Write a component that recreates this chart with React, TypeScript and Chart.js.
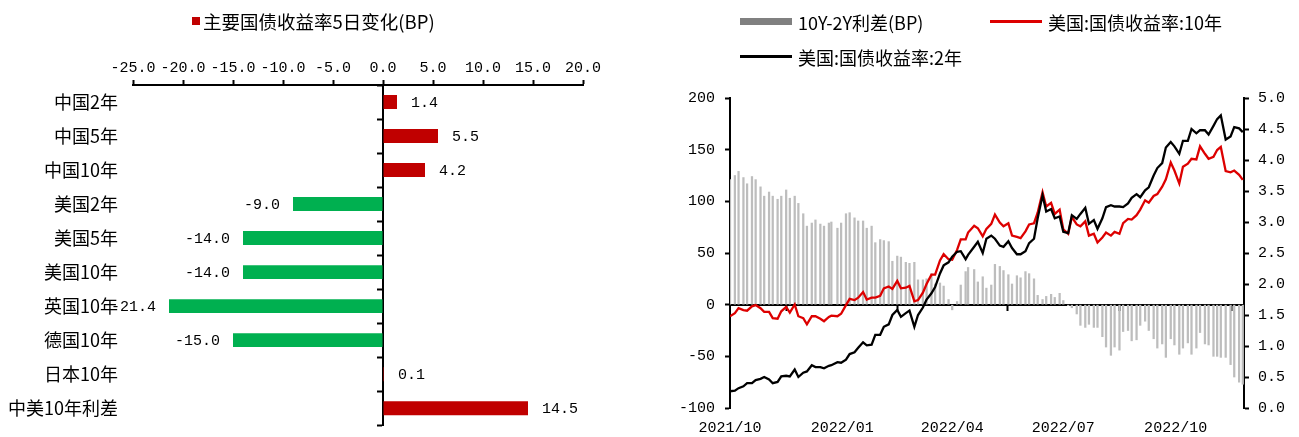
import React, { useEffect, useRef } from 'react';
import { Chart, registerables } from 'chart.js';

Chart.register(...registerables);

// ---------------- Left chart data ----------------
const barCategories = ['中国2年', '中国5年', '中国10年', '美国2年', '美国5年', '美国10年', '英国10年', '德国10年', '日本10年', '中美10年利差'];
const barValues = [1.4, 5.5, 4.2, -9.0, -14.0, -14.0, -21.4, -15.0, 0.1, 14.5];
const barLegendLabel = '主要国债收益率5日变化(BP)';
const barAxisMin = -25;
const barAxisMax = 20;
const barAxisStep = 5;

// ---------------- Right chart data ----------------
const dates = [
  '2021-10-01', '2021-10-05', '2021-10-08', '2021-10-12', '2021-10-15', '2021-10-19', '2021-10-22', '2021-10-26', '2021-10-29',
  '2021-11-02', '2021-11-05', '2021-11-09', '2021-11-12', '2021-11-16', '2021-11-19', '2021-11-23', '2021-11-26', '2021-11-30',
  '2021-12-03', '2021-12-07', '2021-12-10', '2021-12-14', '2021-12-17', '2021-12-21', '2021-12-23', '2021-12-28', '2021-12-31',
  '2022-01-04', '2022-01-07', '2022-01-11', '2022-01-14', '2022-01-18', '2022-01-21', '2022-01-25', '2022-01-28',
  '2022-02-01', '2022-02-04', '2022-02-08', '2022-02-11', '2022-02-15', '2022-02-18', '2022-02-22', '2022-02-25',
  '2022-03-01', '2022-03-04', '2022-03-08', '2022-03-11', '2022-03-15', '2022-03-18', '2022-03-22', '2022-03-25', '2022-03-29',
  '2022-04-01', '2022-04-05', '2022-04-08', '2022-04-12', '2022-04-14', '2022-04-19', '2022-04-22', '2022-04-26', '2022-04-29',
  '2022-05-03', '2022-05-06', '2022-05-10', '2022-05-13', '2022-05-17', '2022-05-20', '2022-05-24', '2022-05-27', '2022-05-31',
  '2022-06-03', '2022-06-07', '2022-06-10', '2022-06-14', '2022-06-17', '2022-06-21', '2022-06-24', '2022-06-28',
  '2022-07-01', '2022-07-05', '2022-07-08', '2022-07-12', '2022-07-15', '2022-07-19', '2022-07-22', '2022-07-26', '2022-07-29',
  '2022-08-02', '2022-08-05', '2022-08-09', '2022-08-12', '2022-08-16', '2022-08-19', '2022-08-23', '2022-08-26', '2022-08-30',
  '2022-09-02', '2022-09-06', '2022-09-09', '2022-09-13', '2022-09-16', '2022-09-20', '2022-09-23', '2022-09-27', '2022-09-30',
  '2022-10-04', '2022-10-07', '2022-10-11', '2022-10-14', '2022-10-18', '2022-10-21', '2022-10-25', '2022-10-28',
  '2022-11-01', '2022-11-04', '2022-11-07', '2022-11-11', '2022-11-15', '2022-11-18', '2022-11-22', '2022-11-25',
];

const us10y = [
  1.48, 1.53, 1.61, 1.58, 1.57, 1.64, 1.66, 1.61, 1.55,
  1.55, 1.45, 1.44, 1.56, 1.63, 1.54, 1.67, 1.48, 1.45,
  1.35, 1.48, 1.48, 1.44, 1.40, 1.47, 1.49, 1.48, 1.52,
  1.66, 1.76, 1.74, 1.78, 1.87, 1.75, 1.78, 1.78,
  1.81, 1.93, 1.96, 1.92, 2.05, 1.93, 1.94, 1.97,
  1.72, 1.74, 1.86, 2.00, 2.15, 2.15, 2.38, 2.48, 2.40,
  2.39, 2.55, 2.72, 2.72, 2.83, 2.94, 2.90, 2.77, 2.89,
  2.97, 3.12, 2.99, 2.93, 2.98, 2.78, 2.76, 2.74, 2.85,
  2.96, 2.98, 3.15, 3.48, 3.25, 3.31, 3.13, 3.20,
  2.88, 2.81, 3.08, 2.96, 2.93, 3.01, 2.78, 2.81, 2.67,
  2.75, 2.83, 2.78, 2.84, 2.81, 2.98, 3.05, 3.04, 3.11,
  3.20, 3.35, 3.31, 3.42, 3.45, 3.57, 3.69, 3.96, 3.83,
  3.62, 3.89, 3.94, 4.02, 4.01, 4.22, 4.10, 4.02,
  4.05, 4.16, 4.21, 3.82, 3.80, 3.83, 3.76, 3.68,
];

const us2y = [
  0.27, 0.28, 0.32, 0.35, 0.40, 0.40, 0.45, 0.47, 0.50,
  0.46, 0.40, 0.42, 0.51, 0.52, 0.51, 0.62, 0.50, 0.57,
  0.59, 0.69, 0.66, 0.66, 0.64, 0.68, 0.69, 0.74, 0.73,
  0.78, 0.87, 0.90, 0.97, 1.06, 1.01, 1.02, 1.18,
  1.18, 1.31, 1.35, 1.50, 1.58, 1.47, 1.53, 1.57,
  1.31, 1.50, 1.62, 1.75, 1.85, 1.95, 2.17, 2.30, 2.35,
  2.44, 2.52, 2.53, 2.40, 2.47, 2.60, 2.68, 2.50, 2.73,
  2.78, 2.73, 2.62, 2.60, 2.69, 2.58, 2.48, 2.48, 2.53,
  2.66, 2.73, 3.06, 3.43, 3.17, 3.21, 3.06, 3.09,
  2.84, 2.82, 3.11, 3.05, 3.13, 3.23, 2.97, 3.03, 2.89,
  3.06, 3.24, 3.27, 3.25, 3.25, 3.24, 3.30, 3.39, 3.45,
  3.40, 3.51, 3.56, 3.75, 3.87, 3.95, 4.20, 4.29, 4.22,
  4.10, 4.31, 4.31, 4.50, 4.43, 4.48, 4.48, 4.41,
  4.55, 4.66, 4.72, 4.33, 4.38, 4.53, 4.51, 4.45,
];

const spreadBp = [
  121, 125, 129, 123, 117, 124, 121, 114, 105,
  109, 105, 102, 105, 111, 103, 105, 98, 88,
  76, 79, 82, 78, 76, 79, 80, 74, 79,
  88, 89, 84, 81, 81, 74, 76, 60,
  63, 62, 61, 42, 47, 46, 41, 40,
  41, 24, 24, 25, 30, 20, 21, 18, 5,
  -5, 3, 19, 32, 36, 34, 22, 27, 16,
  19, 39, 37, 33, 29, 20, 28, 26, 32,
  30, 25, 9, 5, 8, 10, 7, 11,
  4, -1, -3, -9, -20, -22, -19, -22, -22,
  -31, -41, -49, -41, -44, -26, -25, -35, -34,
  -20, -16, -25, -33, -42, -38, -51, -33, -39,
  -48, -42, -37, -48, -42, -27, -38, -39,
  -50, -50, -51, -51, -58, -70, -75, -77,
];

const lineLegend = ['10Y-2Y利差(BP)', '美国:国债收益率:10年', '美国:国债收益率:2年'];
const quarterTickDates = ['2021-10-01', '2022-01-01', '2022-04-01', '2022-07-01', '2022-10-01'];
const quarterTickLabels = ['2021/10', '2022/01', '2022/04', '2022/07', '2022/10'];
const startDate = '2021-10-01';
const endDate = '2022-11-26';

// ---------------- helpers ----------------
const dayIndex = (s: string) => {
  const [y, m, d] = s.split('-').map(Number);
  const [y0, m0, d0] = startDate.split('-').map(Number);
  return Math.round((Date.UTC(y, m - 1, d) - Date.UTC(y0, m0 - 1, d0)) / 86400000);
};
const quarterDays = quarterTickDates.map(dayIndex);

const NUM_FONT = '"Liberation Mono", "DejaVu Sans Mono", monospace';
const CJK_FONT = '"Noto Sans CJK SC", "Noto Sans", sans-serif';
const RED_BAR = '#c00000';
const GREEN_BAR = '#00b050';
const RED_LINE = '#dd0000';

const valueLabelPlugin = {
  id: 'valueLabels',
  afterDatasetsDraw(chart: any) {
    const { ctx } = chart;
    const meta = chart.getDatasetMeta(0);
    ctx.save();
    ctx.font = `15px ${NUM_FONT}`;
    ctx.fillStyle = '#000';
    ctx.textBaseline = 'middle';
    meta.data.forEach((el: any, i: number) => {
      const v = barValues[i];
      const { x, y } = el.getProps(['x', 'y'], true);
      if (v >= 0) {
        ctx.textAlign = 'left';
        ctx.fillText(v.toFixed(1), x + 14, y + 1);
      } else {
        ctx.textAlign = 'right';
        ctx.fillText(v.toFixed(1), x - 13, y + 1);
      }
    });
    ctx.restore();
  },
};

function LeftChart() {
  const ref = useRef<HTMLCanvasElement>(null);
  useEffect(() => {
    if (!ref.current) return;
    const chart = new Chart(ref.current, {
      type: 'bar',
      data: {
        labels: barCategories,
        datasets: [
          {
            label: barLegendLabel,
            data: barValues,
            backgroundColor: barValues.map((v) => (v >= 0 ? RED_BAR : GREEN_BAR)),
            barPercentage: 0.41,
            categoryPercentage: 1,
          },
        ],
      },
      options: {
        indexAxis: 'y',
        responsive: false,
        animation: false,
        events: [],
        layout: { padding: { left: 8, right: 29, top: 55, bottom: 9 } },
        plugins: { legend: { display: false }, tooltip: { enabled: false } },
        scales: {
          x: {
            type: 'linear',
            position: 'top',
            min: barAxisMin,
            max: barAxisMax,
            afterFit: (s: any) => { s.height = 30; },
            ticks: {
              stepSize: barAxisStep,
              color: '#000',
              padding: 3,
              maxRotation: 0,
              font: { family: NUM_FONT, size: 15 },
              callback: (v: any) => Number(v).toFixed(1),
            },
            grid: { display: true, drawOnChartArea: false, drawTicks: true, tickLength: 5, color: '#000', tickColor: '#000', tickWidth: 2 },
            border: { display: true, color: '#000', width: 2 },
          },
          y: {
            type: 'category',
            position: 'left',
            afterFit: (s: any) => { s.width = 125; },
            ticks: { color: '#000', padding: 0, font: { family: CJK_FONT, size: 18 } },
            grid: { display: false, drawTicks: true, tickLength: 15 },
            border: { display: false },
          },
          y2: {
            type: 'category',
            axis: 'y',
            position: { x: 0 },
            offset: true,
            ticks: { display: false },
            grid: { display: true, offset: true, drawOnChartArea: false, drawTicks: true, tickLength: 5, color: '#000', tickColor: '#000', tickWidth: 2 },
            border: { display: true, color: '#000', width: 2 },
          },
        },
      } as any,
      plugins: [valueLabelPlugin],
    });
    return () => chart.destroy();
  }, []);
  return (
    <div style={{ position: 'absolute', left: 0, top: 0, width: 612, height: 436 }}>
      <canvas ref={ref} width={612} height={436} style={{ display: 'block' }} />
      <div style={{ position: 'absolute', left: 192, top: 17, width: 8, height: 8, background: RED_BAR }} />
      <span style={{ position: 'absolute', left: 203, top: 11, fontFamily: CJK_FONT, fontSize: 18.5, lineHeight: '20px', whiteSpace: 'nowrap', color: '#000' }}>{barLegendLabel}</span>
    </div>
  );
}

function RightChart() {
  const ref = useRef<HTMLCanvasElement>(null);
  useEffect(() => {
    if (!ref.current) return;
    const xs = dates.map(dayIndex);
    const setQuarterTicks = (s: any) => { s.ticks = quarterDays.map((v) => ({ value: v })); };
    const chart = new Chart(ref.current, {
      type: 'bar',
      data: {
        datasets: [
          {
            type: 'line',
            label: lineLegend[2],
            data: xs.map((x, i) => ({ x, y: us2y[i] })),
            yAxisID: 'y1',
            xAxisID: 'x',
            borderColor: '#000',
            borderWidth: 2.3,
            pointRadius: 0,
            tension: 0,
            order: 1,
          },
          {
            type: 'line',
            label: lineLegend[1],
            data: xs.map((x, i) => ({ x, y: us10y[i] })),
            yAxisID: 'y1',
            xAxisID: 'x',
            borderColor: RED_LINE,
            borderWidth: 2.3,
            pointRadius: 0,
            tension: 0,
            order: 2,
          },
          {
            type: 'bar',
            label: lineLegend[0],
            data: xs.map((x, i) => ({ x, y: spreadBp[i] })),
            yAxisID: 'y',
            xAxisID: 'x',
            backgroundColor: '#bdbdbd',
            barThickness: 1.6,
            order: 3,
          },
        ],
      },
      options: {
        responsive: false,
        animation: false,
        events: [],
        layout: { padding: { left: 0, right: 0, top: 98, bottom: 0 } },
        plugins: { legend: { display: false }, tooltip: { enabled: false } },
        scales: {
          x: {
            type: 'linear',
            position: 'bottom',
            offset: false,
            min: 0,
            max: dayIndex(endDate),
            afterBuildTicks: setQuarterTicks,
            afterFit: (s: any) => { s.height = 28; },
            ticks: {
              autoSkip: false,
              maxRotation: 0,
              color: '#000',
              padding: 11,
              font: { family: NUM_FONT, size: 15 },
              callback: (v: any) => quarterTickLabels[quarterDays.indexOf(Number(v))] ?? '',
            },
            grid: { display: false, drawTicks: false },
            border: { display: false },
          },
          x2: {
            type: 'linear',
            axis: 'x',
            position: { y: 0 },
            offset: false,
            min: 0,
            max: dayIndex(endDate),
            afterBuildTicks: setQuarterTicks,
            ticks: { display: false },
            grid: { display: true, drawOnChartArea: false, drawTicks: true, tickLength: 5, color: '#000', tickColor: '#000', tickWidth: 2 },
            border: { display: true, color: '#000', width: 2 },
          },
          y: {
            type: 'linear',
            position: 'left',
            min: -100,
            max: 200,
            afterFit: (s: any) => { s.width = 80; },
            ticks: { stepSize: 50, color: '#000', padding: 10, font: { family: NUM_FONT, size: 15 }, callback: (v: any) => String(v) },
            grid: { display: true, drawOnChartArea: false, drawTicks: true, tickLength: 5, color: '#000', tickColor: '#000', tickWidth: 2 },
            border: { display: true, color: '#000', width: 2 },
          },
          y1: {
            type: 'linear',
            position: 'right',
            min: 0,
            max: 5,
            afterFit: (s: any) => { s.width = 54; },
            ticks: { stepSize: 0.5, color: '#000', padding: 9, font: { family: NUM_FONT, size: 15 }, callback: (v: any) => Number(v).toFixed(1) },
            grid: { display: true, drawOnChartArea: false, drawTicks: true, tickLength: 5, color: '#000', tickColor: '#000', tickWidth: 2 },
            border: { display: true, color: '#000', width: 2 },
          },
        },
      } as any,
    });
    return () => chart.destroy();
  }, []);
  const txt: React.CSSProperties = { position: 'absolute', fontFamily: CJK_FONT, fontSize: 18, lineHeight: '20px', whiteSpace: 'nowrap', color: '#000' };
  return (
    <div style={{ position: 'absolute', left: 650, top: 0, width: 648, height: 436 }}>
      <canvas ref={ref} width={648} height={436} style={{ display: 'block' }} />
      <div style={{ position: 'absolute', left: 90, top: 18, width: 52, height: 7, background: '#808080' }} />
      <span style={{ ...txt, left: 148, top: 12 }}>{lineLegend[0]}</span>
      <div style={{ position: 'absolute', left: 340, top: 20, width: 52, height: 2.5, background: RED_LINE }} />
      <span style={{ ...txt, left: 398, top: 12 }}>{lineLegend[1]}</span>
      <div style={{ position: 'absolute', left: 90, top: 55, width: 52, height: 2.5, background: '#000' }} />
      <span style={{ ...txt, left: 148, top: 47 }}>{lineLegend[2]}</span>
    </div>
  );
}

export default function App() {
  return (
    <>
      <LeftChart />
      <RightChart />
    </>
  );
}
